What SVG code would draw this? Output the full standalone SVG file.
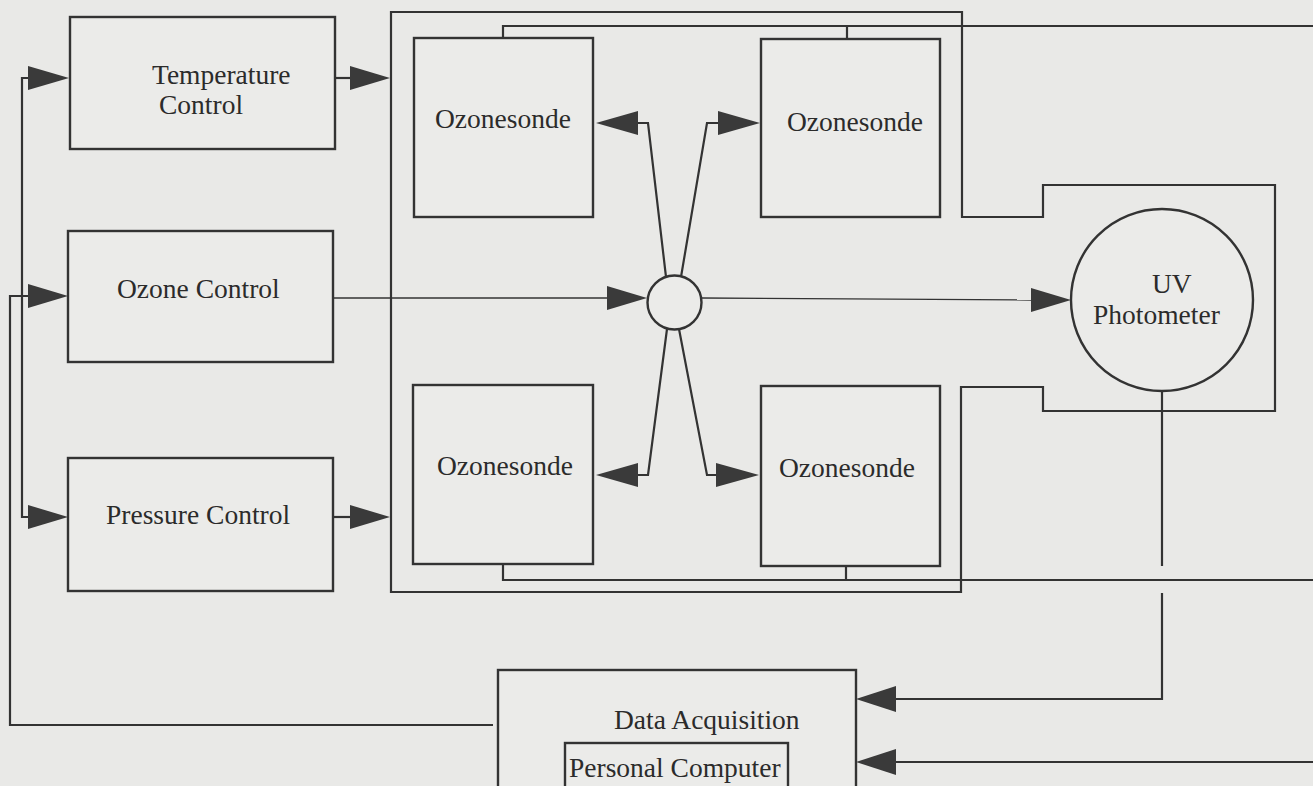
<svg xmlns="http://www.w3.org/2000/svg" width="1313" height="786" viewBox="0 0 1313 786">
<style>
.bg{fill:#e9e9e7}
.box{fill:#ebebe9;stroke:#333;stroke-width:2.4}
.ln{fill:none;stroke:#333;stroke-width:2.2}
.thin{fill:none;stroke:#333;stroke-width:1.3}
.ah{fill:#3a3a3a;stroke:none}
text{font-family:"Liberation Serif","Times New Roman",serif;font-size:27.5px;fill:#2b2b2b}
</style>
<rect class="bg" x="0" y="0" width="1313" height="786"/>
<g id="connectors">
  <polygon class="ln" points="391,12 962,12 962,217 1043,217 1043,185 1275,185 1275,411 1043,411 1043,387 961,387 961,592 391,592"/>
  <path class="ln" d="M503,38 V26 H1313 M847,26 V39"/>
  <path class="ln" d="M503,564 V580 H1313 M846,566 V580"/>
  <line class="ln" x1="335" y1="78" x2="351" y2="78"/>
  <polygon class="ah" points="350,66 390,78 350,90"/>
  <path class="ln" d="M29,78 H22 V517 H29"/>
  <polygon class="ah" points="28,66 69,78 28,90"/>
  <polygon class="ah" points="28,505 68,517 28,529"/>
  <path class="ln" d="M493,725 H10 V296 H29"/>
  <polygon class="ah" points="28,284 68,296 28,308"/>
  <line class="ln" x1="333" y1="517" x2="351" y2="517"/>
  <polygon class="ah" points="350,505 390,517 350,529"/>
  <line class="thin" x1="333" y1="298" x2="609" y2="298"/>
  <polygon class="ah" points="607,286 647,298 607,310"/>
  <line class="thin" x1="702" y1="298" x2="1033" y2="300"/>
  <polygon class="ah" points="1031,288 1071,300 1031,312"/>
  <path class="ln" d="M666,277 L648,123 H637"/>
  <polygon class="ah" points="638,111 596,123 638,135"/>
  <path class="ln" d="M681,277 L707,123 H719"/>
  <polygon class="ah" points="718,111 760,123 718,135"/>
  <path class="ln" d="M667,329 L648,475 H637"/>
  <polygon class="ah" points="638,463 596,475 638,487"/>
  <path class="ln" d="M679,329 L707,475 H717"/>
  <polygon class="ah" points="716,463 759,475 716,487"/>
  <path class="ln" d="M1162,392 V566 M1162,593 V699 H894"/>
  <polygon class="ah" points="896,686 856,699 896,712"/>
  <path class="ln" d="M1313,762 H894"/>
  <polygon class="ah" points="896,749 856,762 896,775"/>
</g>
<g id="temperature-control">
  <rect class="box" x="70" y="17" width="265" height="132"/>
  <text x="152" y="84">Temperature</text>
  <text x="159" y="114">Control</text>
</g>
<g id="ozone-control">
  <rect class="box" x="68" y="231" width="265" height="131"/>
  <text x="117" y="298">Ozone Control</text>
</g>
<g id="pressure-control">
  <rect class="box" x="68" y="458" width="265" height="133"/>
  <text x="106" y="524">Pressure Control</text>
</g>
<g id="ozonesonde-tl">
  <rect class="box" x="414" y="38" width="179" height="179"/>
  <text x="435" y="128">Ozonesonde</text>
</g>
<g id="ozonesonde-tr">
  <rect class="box" x="761" y="39" width="179" height="178"/>
  <text x="787" y="131">Ozonesonde</text>
</g>
<g id="ozonesonde-bl">
  <rect class="box" x="413" y="385" width="180" height="179"/>
  <text x="437" y="475">Ozonesonde</text>
</g>
<g id="ozonesonde-br">
  <rect class="box" x="761" y="386" width="179" height="180"/>
  <text x="779" y="477">Ozonesonde</text>
</g>
<g id="hub">
  <circle class="box" cx="674.5" cy="302.5" r="27"/>
</g>
<g id="uv-photometer">
  <circle class="box" cx="1162" cy="300" r="91"/>
  <text x="1152" y="293">UV</text>
  <text x="1093" y="324">Photometer</text>
</g>
<g id="data-acquisition">
  <rect class="box" x="498" y="670" width="358" height="140"/>
  <text x="614" y="729">Data Acquisition</text>
</g>
<g id="personal-computer">
  <rect class="box" x="565" y="743" width="223" height="70"/>
  <text x="569" y="777">Personal Computer</text>
</g>
</svg>
